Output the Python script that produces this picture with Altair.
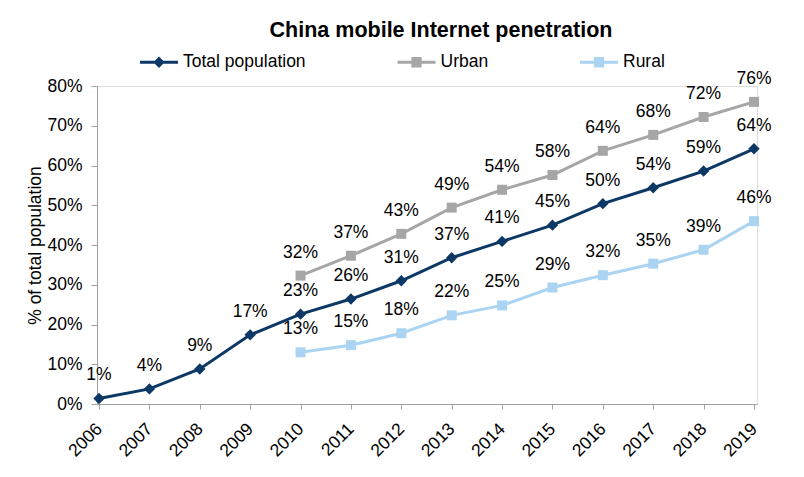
import altair as alt
import pandas as pd

years = list(range(2006, 2020))
total = [1.4, 3.8, 8.8, 17.4, 22.6, 26.4, 31.0, 36.8, 40.9, 45.0, 50.4, 54.4, 58.6, 64.2]
sub_years = list(range(2010, 2020))
urban = [32.3, 37.3, 42.8, 49.4, 53.9, 57.6, 63.7, 67.7, 72.2, 76.0]
rural = [13.0, 14.8, 17.8, 22.3, 24.8, 29.3, 32.4, 35.3, 38.8, 46.0]
y_ticks = [0.0, 0.1, 0.2, 0.3, 0.4, 0.5, 0.6, 0.7, 0.8]

series = ["Total population", "Urban", "Rural"]
colors = ["#0c3866", "#a6a6a6", "#abd4f2"]

rows = []
for y, v in zip(years, total):
    rows.append({"year": y, "value": v / 100, "series": "Total population"})
for y, v in zip(sub_years, urban):
    rows.append({"year": y, "value": v / 100, "series": "Urban"})
for y, v in zip(sub_years, rural):
    rows.append({"year": y, "value": v / 100, "series": "Rural"})
df = pd.DataFrame(rows)

FONT = "Liberation Sans"
FS = 17.5

# legend glyphs: a line segment with the marker on it (all sub-paths clockwise)
bar = "M-1,-0.08L1,-0.08L1,0.08L-1,0.08Z"
diamond_path = bar + "M0,-0.3L0.3,0L0,0.3L-0.3,0Z"
square_path = bar + "M-0.27,-0.27L0.27,-0.27L0.27,0.27L-0.27,0.27Z"

color_scale = alt.Scale(domain=series, range=colors)
shape_scale = alt.Scale(domain=series, range=[diamond_path, square_path, square_path])

x_enc = alt.X("year:Q", scale=alt.Scale(domain=[2005.96, 2019.06], nice=False, zero=False),
              axis=alt.Axis(values=years, tickCount=20, format="d", labelAngle=-45, title=None,
                            labelAlign="right", labelBaseline="middle",
                            labelFontSize=FS, labelFont=FONT, labelColor="black",
                            domainColor="#a0a0a0", tickColor="#a0a0a0", tickSize=5,
                            labelPadding=17, grid=False, labelOverlap=False))
y_enc = alt.Y("value:Q", scale=alt.Scale(domain=[0, 0.8], nice=False),
              axis=alt.Axis(values=y_ticks, tickCount=20, format=".0%",
                            title="% of total population", titleFontSize=FS,
                            titleFont=FONT, titleFontWeight="normal", titleColor="black",
                            titlePadding=2, labelOverlap=False,
                            labelFontSize=FS, labelFont=FONT, labelColor="black",
                            domainColor="#a0a0a0", tickColor="#a0a0a0", tickSize=6,
                            labelPadding=9, grid=False))

base = alt.Chart(df)

legend = alt.Legend(
    orient="none", legendX=43, legendY=-43, direction="horizontal", title=None,
    symbolSize=1444, symbolOpacity=1, symbolStrokeWidth=0,
    labelFontSize=FS, labelFont=FONT,
    labelColor="black", columnPadding=91.5, labelOffset=5,
)

legend_layer = base.mark_point(filled=True, opacity=0, size=1444).encode(
    x=x_enc, y=y_enc,
    color=alt.Color("series:N", scale=color_scale, legend=legend),
    shape=alt.Shape("series:N", scale=shape_scale, legend=legend),
)

lines = base.mark_line(strokeWidth=3).encode(
    x="year:Q", y="value:Q",
    color=alt.Color("series:N", scale=color_scale, legend=None),
)

diamonds = base.transform_filter(alt.datum.series == "Total population").mark_point(
    filled=True, shape="diamond", size=130, opacity=1).encode(
    x="year:Q", y="value:Q",
    color=alt.Color("series:N", scale=color_scale, legend=None),
)
squares = base.transform_filter(alt.datum.series != "Total population").mark_point(
    filled=True, shape="square", size=100, opacity=1).encode(
    x="year:Q", y="value:Q",
    color=alt.Color("series:N", scale=color_scale, legend=None),
)
labels = base.mark_text(dy=-23, fontSize=FS, font=FONT, color="black", baseline="middle").encode(
    x="year:Q", y="value:Q", text=alt.Text("value:Q", format=".0%"),
)

chart = alt.layer(legend_layer, lines, diamonds, squares, labels).resolve_legend(
    color="independent", shape="independent"
).properties(
    width=660, height=318,
    title=alt.TitleParams("China mobile Internet penetration", fontSize=21.5, font=FONT,
                          fontWeight="bold", color="black", anchor="middle",
                          frame="group", dx=14, offset=2),
    autosize=alt.AutoSizeParams(type="none"),
    padding={"left": 89, "top": 78, "right": 30, "bottom": 60},
).configure_view(stroke=None).configure(background="white")

chart.save("out.html", embed_options={"renderer": "svg", "actions": False})
